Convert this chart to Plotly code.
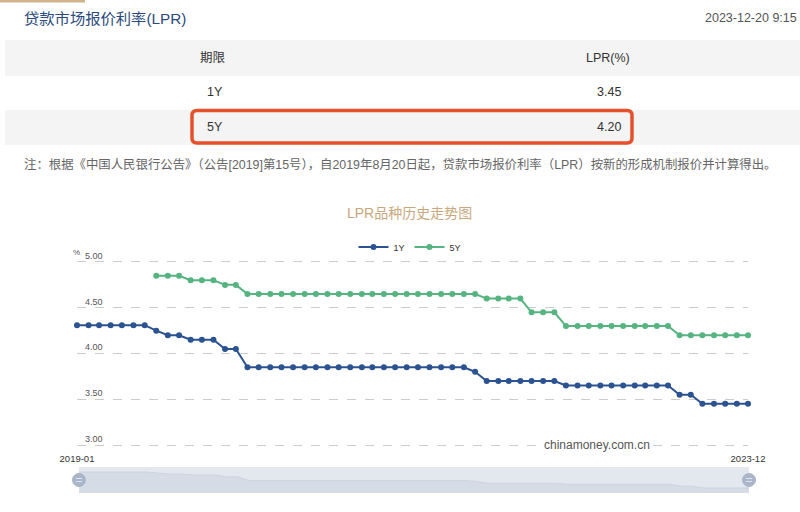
import plotly.graph_objects as go
import pandas as pd

# ---------------- data ----------------
months = pd.date_range("2019-01-01", "2023-12-01", freq="MS")

lpr_1y = [4.31, 4.31, 4.31, 4.31, 4.31, 4.31, 4.31,
          4.25, 4.20, 4.20, 4.15, 4.15, 4.15, 4.05, 4.05,
          3.85, 3.85, 3.85, 3.85, 3.85, 3.85, 3.85, 3.85, 3.85, 3.85,
          3.85, 3.85, 3.85, 3.85, 3.85, 3.85, 3.85, 3.85, 3.85, 3.85,
          3.80,
          3.70, 3.70, 3.70, 3.70, 3.70, 3.70, 3.70,
          3.65, 3.65, 3.65, 3.65, 3.65, 3.65, 3.65, 3.65, 3.65, 3.65,
          3.55, 3.55,
          3.45, 3.45, 3.45, 3.45, 3.45]

lpr_5y = [None, None, None, None, None, None, None,
          4.85, 4.85, 4.85, 4.80, 4.80, 4.80, 4.75, 4.75,
          4.65, 4.65, 4.65, 4.65, 4.65, 4.65, 4.65, 4.65, 4.65, 4.65,
          4.65, 4.65, 4.65, 4.65, 4.65, 4.65, 4.65, 4.65, 4.65, 4.65,
          4.65,
          4.60, 4.60, 4.60, 4.60, 4.45, 4.45, 4.45,
          4.30, 4.30, 4.30, 4.30, 4.30, 4.30, 4.30, 4.30, 4.30, 4.30,
          4.20, 4.20,
          4.20, 4.20, 4.20, 4.20, 4.20]

table_terms = ["1Y", "5Y"]
table_rates = ["3.45", "4.20"]
y_ticks = [3.0, 3.5, 4.0, 4.5, 5.0]
x_tick_labels = ["2019-01", "2023-12"]

# ---------------- styles ----------------
W, H = 800, 512
BLUE = "#2b5291"
GREEN = "#55b480"
FONT = "Liberation Sans, Noto Sans CJK SC, sans-serif"


def X(px):
    return px / W


def Y(py):
    return 1 - py / H


fig = go.Figure()

fig.add_trace(go.Scatter(
    x=months, y=lpr_1y, name="1Y", mode="lines+markers",
    line=dict(color=BLUE, width=2), marker=dict(size=6, color=BLUE),
    cliponaxis=False,
))
fig.add_trace(go.Scatter(
    x=months, y=lpr_5y, name="5Y", mode="lines+markers",
    line=dict(color=GREEN, width=2), marker=dict(size=6, color=GREEN),
    cliponaxis=False,
))
# slider data shadow
fig.add_trace(go.Scatter(
    x=months, y=lpr_1y, mode="lines", fill="tozeroy",
    line=dict(color="#cdd4df", width=1), fillcolor="#d6dce6",
    xaxis="x2", yaxis="y2", showlegend=False, hoverinfo="skip",
))

shapes = []
annotations = []

# top accent bar
shapes.append(dict(type="rect", xref="paper", yref="paper",
                   x0=X(0), x1=X(85), y0=Y(0), y1=Y(2.5),
                   fillcolor="#d2b48c", line=dict(width=0), layer="below"))
# table backgrounds
shapes.append(dict(type="rect", xref="paper", yref="paper",
                   x0=X(5), x1=X(800), y0=Y(40), y1=Y(76),
                   fillcolor="#f4f4f4", line=dict(width=0), layer="below"))
shapes.append(dict(type="rect", xref="paper", yref="paper",
                   x0=X(5), x1=X(800), y0=Y(110), y1=Y(145),
                   fillcolor="#f4f4f4", line=dict(width=0), layer="below"))

# red rounded highlight box
x0, x1, y0, y1, r = 192, 632, 110.5, 143, 5
rx, ry = r / W, r / H
path = (f"M {X(x0)+rx},{Y(y0)} L {X(x1)-rx},{Y(y0)} Q {X(x1)},{Y(y0)} {X(x1)},{Y(y0)-ry} "
        f"L {X(x1)},{Y(y1)+ry} Q {X(x1)},{Y(y1)} {X(x1)-rx},{Y(y1)} "
        f"L {X(x0)+rx},{Y(y1)} Q {X(x0)},{Y(y1)} {X(x0)},{Y(y1)+ry} "
        f"L {X(x0)},{Y(y0)-ry} Q {X(x0)},{Y(y0)} {X(x0)+rx},{Y(y0)} Z")
shapes.append(dict(type="path", xref="paper", yref="paper", path=path,
                   line=dict(color="#e6512b", width=3.5)))

# slider background and handles
shapes.append(dict(type="rect", xref="paper", yref="paper",
                   x0=X(79), x1=X(749), y0=Y(467), y1=Y(493),
                   fillcolor="#e3e7ee", line=dict(width=0), layer="below"))
for cx in (79, 749):
    shapes.append(dict(type="circle", xref="paper", yref="paper",
                       x0=X(cx - 6.5), x1=X(cx + 6.5), y0=Y(480 - 6.5), y1=Y(480 + 6.5),
                       fillcolor="#a9b6c9", line=dict(color="#a9b6c9", width=1)))
    for dy in (-1.5, 1.5):
        shapes.append(dict(type="line", xref="paper", yref="paper",
                           x0=X(cx - 3), x1=X(cx + 3), y0=Y(480 + dy), y1=Y(480 + dy),
                           line=dict(color="#dfe5ee", width=1)))

# header texts
annotations.append(dict(text="贷款市场报价利率(LPR)", x=X(22), y=Y(18), xref="paper", yref="paper",
                        xanchor="left", yanchor="middle", showarrow=False,
                        font=dict(size=15.3, color="#2d4a7e", family=FONT)))
annotations.append(dict(text="2023-12-20 9:15", x=X(799), y=Y(18), xref="paper", yref="paper",
                        xanchor="right", yanchor="middle", showarrow=False,
                        font=dict(size=12.5, color="#555555", family=FONT)))
annotations.append(dict(text="期限", x=X(213), y=Y(58), xref="paper", yref="paper",
                        xanchor="center", yanchor="middle", showarrow=False,
                        font=dict(size=12.5, color="#333333", family=FONT)))
annotations.append(dict(text="LPR(%)", x=X(632), y=Y(58), xref="paper", yref="paper",
                        xanchor="right", yanchor="middle", showarrow=False,
                        font=dict(size=12.5, color="#333333", family=FONT)))
for i, (t, v) in enumerate(zip(table_terms, table_rates)):
    ypix = 92 + i * 35
    annotations.append(dict(text=t, x=X(205), y=Y(ypix), xref="paper", yref="paper",
                            xanchor="left", yanchor="middle", showarrow=False,
                            font=dict(size=12.5, color="#333333", family=FONT)))
    annotations.append(dict(text=v, x=X(623), y=Y(ypix), xref="paper", yref="paper",
                            xanchor="right", yanchor="middle", showarrow=False,
                            font=dict(size=12.5, color="#333333", family=FONT)))
annotations.append(dict(
    text="注：根据《中国人民银行公告》（公告[2019]第15号），自2019年8月20日起，贷款市场报价利率（LPR）按新的形成机制报价并计算得出。",
    x=X(22), y=Y(164), xref="paper", yref="paper", xanchor="left", yanchor="middle",
    showarrow=False, font=dict(size=12.4, color="#666666", family=FONT)))

# chart title
annotations.append(dict(text="LPR品种历史走势图", x=X(410), y=Y(213), xref="paper", yref="paper",
                        xanchor="center", yanchor="middle", showarrow=False,
                        font=dict(size=14, color="#c8a87c", family=FONT)))
# unit
annotations.append(dict(text="%", x=X(76), y=Y(252), xref="paper", yref="paper",
                        xanchor="center", yanchor="middle", showarrow=False,
                        font=dict(size=8, color="#555555", family=FONT)))
# watermark
annotations.append(dict(text="chinamoney.com.cn", x=X(597), y=Y(445), xref="paper", yref="paper",
                        xanchor="center", yanchor="middle", showarrow=False, bgcolor="white",
                        font=dict(size=12, color="#555555", family=FONT)))

# y axis: 3.00 at 445px, 5.00 at 262px; extend range slightly so edge gridlines render
PPU = (445 - 262) / 2.0
EXT = 0.05
fig.update_layout(
    width=W, height=H,
    margin=dict(l=0, r=0, t=0, b=0, pad=0, autoexpand=False),
    paper_bgcolor="white", plot_bgcolor="white",
    font=dict(family=FONT),
    showlegend=True,
    legend=dict(orientation="h", x=X(410), y=Y(247), xanchor="center", yanchor="middle",
                font=dict(size=9, color="#333333"), itemwidth=30, bgcolor="rgba(0,0,0,0)"),
    xaxis=dict(domain=[X(77), X(748)], range=[months[0], months[-1]],
               showgrid=False, zeroline=False, showline=False, automargin=False,
               tickvals=[months[0], months[-1]], ticktext=x_tick_labels,
               ticklabeloverflow="allow", ticklabelstandoff=2,
               tickfont=dict(size=9.5, color="#333333"), ticks=""),
    yaxis=dict(domain=[Y(445 + EXT * PPU), Y(262 - EXT * PPU)], range=[3.0 - EXT, 5.0 + EXT],
               tickvals=y_ticks, tickformat=".2f", automargin=False,
               ticklabelposition="inside top", ticklabeloverflow="allow",
               ticklabelstandoff=5,
               tickfont=dict(size=9, color="#555555"),
               showgrid=True, gridcolor="#cccccc", griddash="dash", gridwidth=1,
               zeroline=False, showline=False, ticks=""),
    xaxis2=dict(domain=[X(79), X(749)], range=[months[0], months[-1]], anchor="y2",
                visible=False),
    yaxis2=dict(domain=[Y(493), Y(467)], range=[3.18, 4.58], anchor="x2", visible=False),
    shapes=shapes,
    annotations=annotations,
)

fig.write_html("out.html")
